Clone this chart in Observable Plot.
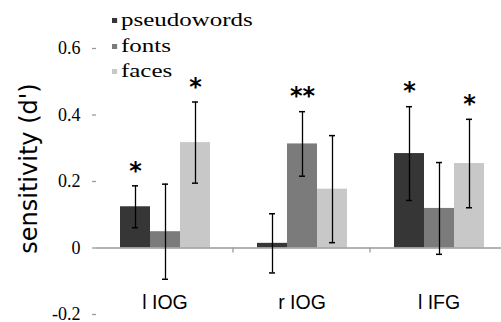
<!DOCTYPE html>
<html><head><meta charset="utf-8">
<script src="https://cdn.jsdelivr.net/npm/d3@7"></script>
<script src="https://cdn.jsdelivr.net/npm/@observablehq/plot@0.6"></script>
<style>
html,body{margin:0;padding:0;background:#fff;}
#chart{position:relative;width:501px;height:322px;overflow:hidden;}
#legend{position:absolute;left:112px;top:7px;font-family:"Liberation Serif",serif;font-size:19.5px;line-height:25.5px;color:#000;transform:scaleX(1.28);transform-origin:0 0;}
#legend .item{display:flex;align-items:center;white-space:nowrap;}
#legend .sw{width:4px;height:5px;margin-right:3px;margin-top:2px;}
</style></head><body><div id="chart"></div>
<script>
const regions = ["l IOG", "r IOG", "l IFG"];
const conditions = ["pseudowords", "fonts", "faces"];
const colors = ["#363636", "#7b7b7b", "#c8c8c8"];
const pseudowords = [0.124, 0.014, 0.284];
const fonts = [0.049, 0.313, 0.119];
const faces = [0.317, 0.177, 0.254];
const errPseudowords = [0.063, 0.089, 0.141];
const errFonts = [0.143, 0.097, 0.138];
const errFaces = [0.122, 0.161, 0.133];
const starsPseudowords = ["*", "", "*"];
const starsFonts = ["", "**", ""];
const starsFaces = ["*", "", "*"];
const yTicks = [-0.2, 0, 0.2, 0.4, 0.6];
const yTickLabels = ["-0.2", "0", "0.2", "0.4", "0.6"];
const yLabel = "sensitivity (d')";

const seriesValues = [pseudowords, fonts, faces];
const seriesErr = [errPseudowords, errFonts, errFaces];
const seriesStars = [starsPseudowords, starsFonts, starsFaces];
const rows = regions.flatMap((r, i) => conditions.map((c, j) => ({
  region: r, condition: c, value: seriesValues[j][i], err: seriesErr[j][i], stars: seriesStars[j][i]
})));
const lo = d => d.value - d.err;
const hi = d => d.value + d.err;

const plot = Plot.plot({
  width: 501, height: 322,
  marginLeft: 96, marginRight: -6, marginTop: 48, marginBottom: 8,
  style: {fontFamily: "Liberation Serif, serif", background: "white", color: "black"},
  fx: {domain: regions, padding: 0, axis: null},
  x: {domain: conditions, paddingInner: 0, paddingOuter: 0.75, axis: null},
  y: {domain: [-0.2, 0.6], axis: null},
  color: {domain: conditions, range: colors},
  marks: [
    Plot.barY(rows, {fx: "region", x: "condition", y: "value", fill: "condition"}),
    Plot.ruleY([0], {stroke: "#9a9a9a", strokeWidth: 1.5}),
    Plot.axisY({ticks: yTicks, tickFormat: d => yTickLabels[yTicks.indexOf(d)], tickSize: 4, tickPadding: 12,
      stroke: "#9a9a9a", fill: "black", fontSize: 18, fontFamily: "Liberation Serif, serif", label: null, line: true,
      strokeWidth: 1.3, ariaLabel: "ytick"}),
    Plot.ruleX(rows, {fx: "region", x: "condition", y1: lo, y2: hi, stroke: "black", strokeWidth: 1.3}),
    Plot.tickY(rows, {fx: "region", x: "condition", y: lo, insetLeft: 12, insetRight: 12, stroke: "black", strokeWidth: 1.5}),
    Plot.tickY(rows, {fx: "region", x: "condition", y: hi, insetLeft: 12, insetRight: 12, stroke: "black", strokeWidth: 1.5}),
    Plot.text(rows.filter(d => d.stars), {fx: "region", x: "condition", y: hi, text: "stars", dy: -15,
      fontSize: 24, fontWeight: "bold", fontFamily: "DejaVu Sans", fill: "black"}),
    Plot.text(regions, {fx: d => d, text: d => d, frameAnchor: "bottom", textAnchor: "middle", dy: -6,
      fontSize: 19.5, fontFamily: "Liberation Sans, Arial, sans-serif", fill: "black", ariaLabel: "region-label"}),
    Plot.text([yLabel], {fx: () => regions[0], text: d => d, frameAnchor: "left", textAnchor: "middle", rotate: -90,
      dx: -67, dy: -13, fontSize: 24, fontFamily: "DejaVu Sans", fill: "black"})
  ]
});

// horizontally stretch text (the reference is a horizontally stretched image)
function stretch(sel, k) {
  sel.each(function() {
    let t = this.getAttribute("transform");
    if (!t) {
      const x = +this.getAttribute("x") || 0, y = +this.getAttribute("y") || 0;
      this.removeAttribute("x"); this.removeAttribute("y");
      t = `translate(${x},${y})`;
    }
    this.setAttribute("transform", `${t} scale(${k},1)`);
  });
}

// italic first letter of region labels
const regionTexts = d3.select(plot).selectAll('g[aria-label="region-label"] text');
regionTexts.each(function() {
  const t = this.textContent;
  const sel = d3.select(this);
  sel.text(null);
  sel.append("tspan").attr("font-style", "italic").text(t.slice(0, 1));
  sel.append("tspan").text(t.slice(1));
});
stretch(regionTexts, 1.1);
stretch(d3.select(plot).selectAll('g[aria-label="ytick"] text'), 1.25);

// small category separator ticks below the zero line
const fxScale = plot.scale("fx");
const yScale = plot.scale("y");
const y0 = yScale.apply(0);
d3.select(plot).append("g").selectAll("line").data(regions.slice(1)).join("line")
  .attr("x1", d => fxScale.apply(d)).attr("x2", d => fxScale.apply(d))
  .attr("y1", y0).attr("y2", y0 + 5).attr("stroke", "#9a9a9a").attr("stroke-width", 1.3);

const chart = document.getElementById("chart");
chart.appendChild(plot);
const legend = d3.select(chart).append("div").attr("id", "legend");
const items = legend.selectAll(".item").data(conditions).join("div").attr("class", "item");
items.append("span").attr("class", "sw").style("background", (d, i) => colors[i]);
items.append("span").text(d => d);
</script>
</body></html>
